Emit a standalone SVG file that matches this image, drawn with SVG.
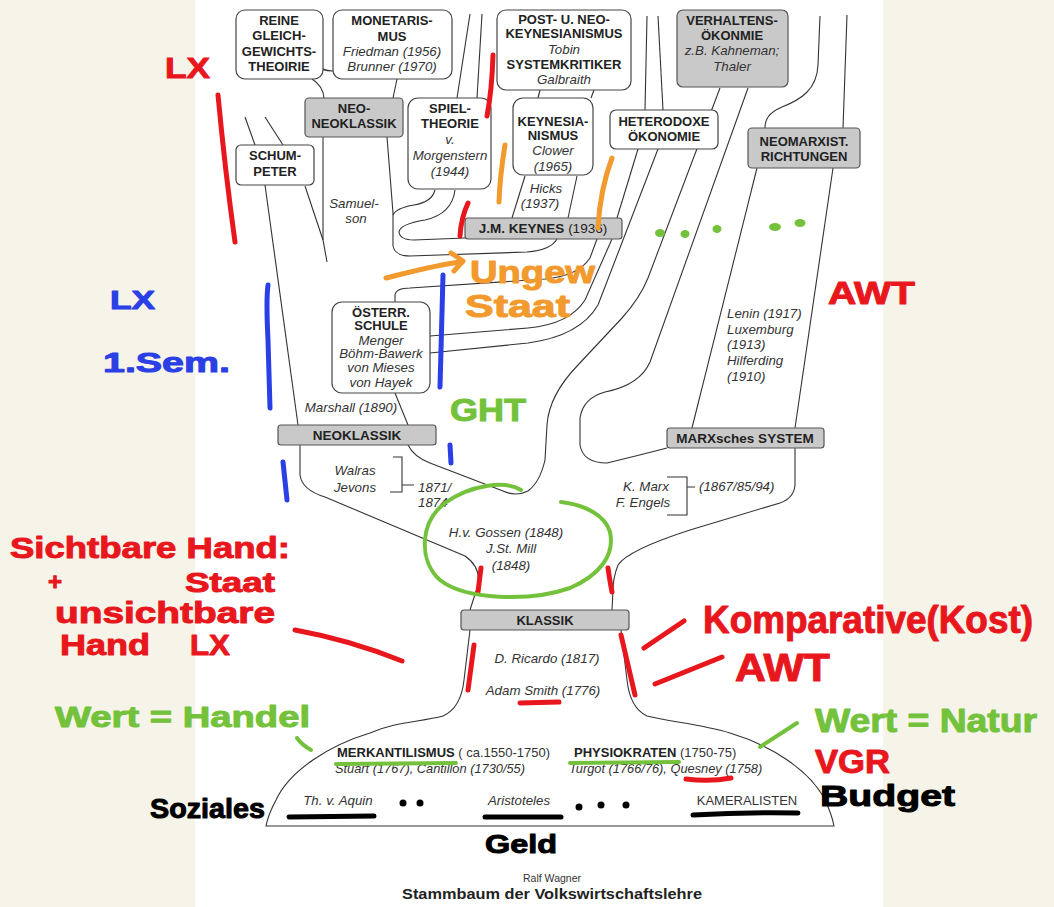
<svg xmlns="http://www.w3.org/2000/svg" width="1054" height="907" viewBox="0 0 1054 907">
<style>
.box{fill:#fff;stroke:#444;stroke-width:1.2}
.gbox{fill:#c9c9c9;stroke:#555;stroke-width:1.2}
.bar{fill:#c9c9c9;stroke:#555;stroke-width:1.2}
.b{font-family:"Liberation Sans",Arial,sans-serif;font-weight:bold;font-size:13px;fill:#222;text-anchor:middle}
.bb{font-family:"Liberation Sans",Arial,sans-serif;font-weight:bold;font-size:13.5px;fill:#222;text-anchor:middle}
.i{font-family:"Liberation Sans",Arial,sans-serif;font-style:italic;font-size:13.3px;fill:#333;text-anchor:middle}
.is{font-family:"Liberation Sans",Arial,sans-serif;font-style:italic;font-size:13.3px;fill:#333;text-anchor:start}
.n{font-family:"Liberation Sans",Arial,sans-serif;font-size:13px;fill:#333}
.ln{fill:none;stroke:#333;stroke-width:1.1}
.hw{font-family:"Liberation Sans",Arial,sans-serif;font-weight:bold;stroke-width:1;stroke-linejoin:round}
.mk{fill:none;stroke-linecap:round;stroke-linejoin:round}
.red{stroke:#e8171d;stroke-width:5}
.blue{stroke:#2b3fe6;stroke-width:5}
.or{stroke:#f29a2e;stroke-width:5}
.gr{stroke:#74c23c;stroke-width:4}
.bk{stroke:#000;stroke-width:5}
</style>
<rect x="0" y="0" width="1054" height="907" fill="#f6f3e8"/>
<rect x="195" y="0" width="688" height="907" fill="#ffffff"/>

<g id="connectors">
<path class="ln" d="M313,63 Q321,71 333,71"/>
<path class="ln" d="M312,79 Q323,86 324,98"/>
<path class="ln" d="M397,79 L393,98"/>
<path class="ln" d="M470,14 L457,98"/>
<path class="ln" d="M482,14 L477,98"/>
<path class="ln" d="M540,90 L538,98"/>
<path class="ln" d="M594,90 L591,98"/>
<path class="ln" d="M647,16 L645,110"/>
<path class="ln" d="M658,16 L663,110"/>
<path class="ln" d="M820,16 L818,65 C817,90 800,100 782,107 C768,113 765,120 765,128"/>
<path class="ln" d="M847,15 L843,128"/>
<path class="ln" d="M245,117 L255,145"/>
<path class="ln" d="M265,117 L283,145"/>
<path class="ln" d="M265,185 L298,425"/>
<path class="ln" d="M305,186 L323,240 L327,262"/>
<path class="ln" d="M323,137 L323,240"/>
<path class="ln" d="M387,137 L393,213 L393,246 Q395,256 410,256 L527,252 Q551,250 557,239"/>
<path class="ln" d="M435,190 Q432,202 414,205 Q396,208 393,215"/>
<path class="ln" d="M455,190 Q452,214 425,220 Q400,224 399,232 Q400,240 414,240 L465,238"/>
<path class="ln" d="M525,176 L512,218"/>
<path class="ln" d="M577,176 L568,218"/>
<path class="ln" d="M638,149 L617,218"/>
<path class="ln" d="M395,302 L395,295 Q396,288 410,288 L545,279 Q578,276 590,258 L597,239"/>
<path class="ln" d="M430,336 L528,328 Q570,324 585,300 L612,239"/>
<path class="ln" d="M430,353 L528,343 Q580,336 598,305 L658,149"/>
<path class="ln" d="M395,393 L408,425"/>
<path class="ln" d="M408,445 Q414,457 430,463 L503,491 Q516,497 528,491 Q540,482 545,460 L547,425 Q549,395 578,365 L622,318 Q640,298 648,278 L720,88"/>
<path class="ln" d="M667,448 Q640,455 607,463 Q583,463 580,445 L580,418 Q583,398 605,392 Q640,385 650,362 L748,88"/>
<path class="ln" d="M757,168 L692,428"/>
<path class="ln" d="M833,168 L795,428"/>
<path class="ln" d="M795,448 L795,485 Q794,498 780,503 L690,530 Q628,550 618,565 Q613,578 613,590 L612,610"/>
<path class="ln" d="M470,610 L478,585 Q481,567 465,556 L325,497 Q302,490 300,475 L300,445"/>
<path class="ln" d="M393,457 L402,457 L402,492 L390,492 M402,485 L414,485"/>
<path class="ln" d="M667,477 L687,477 L687,515 L667,515 M687,487 L695,487"/>
<path class="ln" d="M470,630 L464,680 Q461,708 443,716 C420,722 395,722 370,733 C330,745 290,770 276,800 Q268,815 266,826 L834,826 Q832,815 825,800 C810,770 770,745 730,733 C700,724 670,722 647,716 Q630,708 627,680 L621,630"/>
</g>

<g id="n-reine"><rect class="box" x="236" y="10" width="87" height="69" rx="9"/>
<text class="b" x="279" y="25">REINE</text><text class="b" x="279" y="40">GLEICH-</text><text class="b" x="279" y="56">GEWICHTS-</text><text class="b" x="279" y="71">THEOIRIE</text></g>
<g id="n-monetarismus"><rect class="box" x="333" y="10" width="119" height="69" rx="9"/>
<text class="b" x="392" y="25">MONETARIS-</text><text class="b" x="392" y="41">MUS</text><text class="i" x="392" y="56">Friedman (1956)</text><text class="i" x="392" y="71">Brunner (1970)</text></g>
<g id="n-postkeynes"><rect class="box" x="497" y="10" width="134" height="80" rx="9"/>
<text class="b" x="564" y="24">POST- U. NEO-</text><text class="b" x="564" y="38">KEYNESIANISMUS</text><text class="i" x="564" y="54">Tobin</text><text class="b" x="564" y="69">SYSTEMKRITIKER</text><text class="i" x="564" y="84">Galbraith</text></g>
<g id="n-verhalten"><rect class="gbox" x="677" y="10" width="111" height="77" rx="6"/>
<text class="b" x="732" y="25">VERHALTENS-</text><text class="b" x="732" y="40">ÖKONMIE</text><text class="i" x="732" y="55">z.B. Kahneman;</text><text class="i" x="732" y="71">Thaler</text></g>
<g id="n-neoneo"><rect class="gbox" x="305" y="98" width="98" height="39" rx="4"/>
<text class="b" x="354" y="113">NEO-</text><text class="b" x="354" y="128">NEOKLASSIK</text></g>
<g id="n-spiel"><rect class="box" x="408" y="98" width="83" height="91" rx="10"/>
<text class="b" x="450" y="113">SPIEL-</text><text class="b" x="450" y="128">THEORIE</text><text class="i" x="450" y="144">v.</text><text class="i" x="450" y="160">Morgenstern</text><text class="i" x="450" y="176">(1944)</text></g>
<g id="n-keynesianismus"><rect class="box" x="513" y="98" width="80" height="77" rx="10"/>
<text class="b" x="553" y="126">KEYNESIA-</text><text class="b" x="553" y="140">NISMUS</text><text class="i" x="553" y="155">Clower</text><text class="i" x="553" y="171">(1965)</text></g>
<g id="n-heterodox"><rect class="box" x="610" y="110" width="108" height="39" rx="6"/>
<text class="b" x="664" y="126">HETERODOXE</text><text class="b" x="664" y="141">ÖKONOMIE</text></g>
<g id="n-neomarx"><rect class="gbox" x="748" y="128" width="112" height="40" rx="4"/>
<text class="b" x="804" y="146">NEOMARXIST.</text><text class="b" x="804" y="161">RICHTUNGEN</text></g>
<g id="n-schumpeter"><rect class="box" x="236" y="145" width="78" height="40" rx="5"/>
<text class="b" x="275" y="160">SCHUM-</text><text class="b" x="275" y="176">PETER</text></g>
<g id="n-keynes"><rect class="bar" x="465" y="218" width="157" height="21" rx="3"/>
<text class="bb" x="543" y="233">J.M. KEYNES <tspan font-weight="normal">(1936)</tspan></text></g>
<g id="n-oesterr"><rect class="box" x="332" y="302" width="98" height="91" rx="10"/>
<text class="b" x="381" y="317">ÖSTERR.</text><text class="b" x="381" y="330">SCHULE</text><text class="i" x="381" y="345">Menger</text><text class="i" x="381" y="358">Böhm-Bawerk</text><text class="i" x="381" y="372">von Mieses</text><text class="i" x="381" y="387">von Hayek</text></g>
<g id="n-neoklassik"><rect class="bar" x="278" y="425" width="158" height="20" rx="3"/>
<text class="bb" x="357" y="440">NEOKLASSIK</text></g>
<g id="n-marx"><rect class="bar" x="667" y="428" width="157" height="20" rx="3"/>
<text class="bb" x="745" y="443">MARXsches SYSTEM</text></g>
<g id="n-klassik"><rect class="bar" x="461" y="610" width="168" height="20" rx="3"/>
<text class="b" x="545" y="625">KLASSIK</text></g>

<g id="labels">
<text class="i" x="354" y="208">Samuel-</text><text class="i" x="356" y="223">son</text>
<text class="i" x="546" y="193">Hicks</text><text class="i" x="540" y="208">(1937)</text>
<text class="i" x="351" y="412">Marshall (1890)</text>
<text class="i" x="355" y="475">Walras</text><text class="i" x="355" y="492">Jevons</text>
<text class="is" x="418" y="492">1871/</text><text class="is" x="418" y="507">1874</text>
<text class="is" x="727" y="318">Lenin (1917)</text>
<text class="is" x="727" y="334">Luxemburg</text>
<text class="is" x="727" y="349">(1913)</text>
<text class="is" x="727" y="365">Hilferding</text>
<text class="is" x="727" y="381">(1910)</text>
<text class="i" x="646" y="491">K. Marx</text><text class="i" x="643" y="507">F. Engels</text>
<text class="is" x="699" y="491">(1867/85/94)</text>
<text class="i" x="506" y="537">H.v. Gossen (1848)</text>
<text class="i" x="511" y="553">J.St. Mill</text>
<text class="i" x="511" y="570">(1848)</text>
<text class="i" x="547" y="663">D. Ricardo (1817)</text>
<text class="i" x="543" y="695">Adam Smith (1776)</text>
<text class="n" x="337" y="757"><tspan font-weight="bold" fill="#222">MERKANTILISMUS</tspan> ( ca.1550-1750)</text>
<text class="n" x="574" y="757"><tspan font-weight="bold" fill="#222">PHYSIOKRATEN</tspan> (1750-75)</text>
<text class="is" x="335" y="773" style="font-size:12.8px">Stuart (1767), Cantillon (1730/55)</text>
<text class="is" x="569" y="773" style="font-size:12.8px">Turgot (1766/76), Quesney (1758)</text>
<text class="i" x="338" y="805">Th. v. Aquin</text>
<text class="i" x="519" y="805">Aristoteles</text>
<text class="n" x="747" y="805" text-anchor="middle">KAMERALISTEN</text>
<text class="n" x="552" y="882" text-anchor="middle" style="font-size:10.5px">Ralf Wagner</text>
<text class="n" x="552" y="899" text-anchor="middle" style="font-size:15px;font-weight:bold;fill:#222" textLength="300" lengthAdjust="spacingAndGlyphs">Stammbaum der Volkswirtschaftslehre</text>
</g>

<g id="annotations">
<path class="mk red" d="M218,95 Q225,170 235,242"/>
<path class="mk red" d="M493,55 Q492,90 487,116"/>
<path class="mk red" d="M468,203 Q461,218 460,236"/>
<path class="mk red" stroke-width="4" d="M481,568 L478,592"/>
<path class="mk red" stroke-width="4" d="M608,568 Q610,582 612,592"/>
<path class="mk red" stroke-width="4" d="M474,645 L468,690"/>
<path class="mk red" stroke-width="4" d="M621,635 Q628,665 635,695"/>
<path class="mk red" d="M295,630 Q350,640 402,661"/>
<path class="mk red" d="M644,648 L684,621"/>
<path class="mk red" d="M655,684 L722,657"/>
<path class="mk red" stroke-width="4" d="M520,703 L559,702"/>
<path class="mk red" stroke-width="4" d="M686,779 Q710,782 731,778"/>
<path class="mk blue" d="M268,285 Q266,300 268,340 L270,408"/>
<path class="mk blue" d="M443,275 L440,387"/>
<path class="mk blue" d="M283,462 L287,500"/>
<path class="mk blue" d="M450,445 L451,463"/>
<path class="mk or" d="M386,278 C410,272 440,264 462,262"/>
<path class="mk or" d="M451,253 L463,261 L454,271"/>
<path class="mk or" d="M505,145 Q500,175 499,202"/>
<path class="mk or" d="M612,158 Q600,190 598,228"/>
<path class="mk gr" d="M521,490 C505,480 470,485 445,503 C420,522 418,560 440,580 C465,600 530,602 570,588 C600,575 615,555 610,532 C605,515 585,505 561,502"/>
<path class="mk gr" d="M297,738 Q302,745 311,750"/>
<path class="mk gr" d="M760,747 L797,723"/>
<path class="mk gr" d="M336,764 L456,763"/>
<path class="mk gr" d="M570,763 L679,762"/>
<g fill="#74c23c"><ellipse cx="660" cy="233" rx="5" ry="4"/><ellipse cx="685" cy="234" rx="4.5" ry="4"/><ellipse cx="717" cy="229" rx="4.5" ry="4"/><ellipse cx="775" cy="227" rx="6" ry="4"/><ellipse cx="800" cy="223" rx="5.5" ry="4"/></g>
<path class="mk bk" d="M289,817 L374,816"/>
<path class="mk bk" d="M485,817 L561,817"/>
<path class="mk bk" d="M693,815 Q745,812 798,813"/>
<g fill="#000"><circle cx="403" cy="803" r="3.5"/><circle cx="420" cy="803" r="3.5"/><circle cx="579" cy="807" r="3.5"/><circle cx="601" cy="805" r="3.5"/><circle cx="626" cy="805" r="3.5"/></g>

<text class="hw" x="165" y="78" font-size="30" fill="#e8171d" stroke="#e8171d" textLength="45" lengthAdjust="spacingAndGlyphs">LX</text>
<text class="hw" x="110" y="309" font-size="26" fill="#2b3fe6" stroke="#2b3fe6" textLength="45" lengthAdjust="spacingAndGlyphs">LX</text>
<text class="hw" x="103" y="372" font-size="28" fill="#2b3fe6" stroke="#2b3fe6" textLength="127" lengthAdjust="spacingAndGlyphs">1.Sem.</text>
<text class="hw" x="470" y="283" font-size="32" fill="#f29a2e" stroke="#f29a2e" textLength="125" lengthAdjust="spacingAndGlyphs">Ungew</text>
<text class="hw" x="465" y="317" font-size="32" fill="#f29a2e" stroke="#f29a2e" textLength="105" lengthAdjust="spacingAndGlyphs">Staat</text>
<text class="hw" x="450" y="421" font-size="32" fill="#74c23c" stroke="#74c23c" textLength="76" lengthAdjust="spacingAndGlyphs">GHT</text>
<text class="hw" x="828" y="304" font-size="32" fill="#e8171d" stroke="#e8171d" textLength="87" lengthAdjust="spacingAndGlyphs">AWT</text>
<text class="hw" x="10" y="558" font-size="30" fill="#e8171d" stroke="#e8171d" textLength="280" lengthAdjust="spacingAndGlyphs">Sichtbare Hand:</text>
<text class="hw" x="48" y="590" font-size="24" fill="#e8171d" stroke="#e8171d">+</text>
<text class="hw" x="185" y="592" font-size="28" fill="#e8171d" stroke="#e8171d" textLength="90" lengthAdjust="spacingAndGlyphs">Staat</text>
<text class="hw" x="55" y="623" font-size="30" fill="#e8171d" stroke="#e8171d" textLength="220" lengthAdjust="spacingAndGlyphs">unsichtbare</text>
<text class="hw" x="60" y="655" font-size="30" fill="#e8171d" stroke="#e8171d" textLength="90" lengthAdjust="spacingAndGlyphs">Hand</text>
<text class="hw" x="190" y="655" font-size="30" fill="#e8171d" stroke="#e8171d" textLength="40" lengthAdjust="spacingAndGlyphs">LX</text>
<text class="hw" x="55" y="727" font-size="30" fill="#74c23c" stroke="#74c23c" textLength="255" lengthAdjust="spacingAndGlyphs">Wert = Handel</text>
<text class="hw" x="150" y="818" font-size="28" fill="#000" stroke="#000" textLength="115" lengthAdjust="spacingAndGlyphs">Soziales</text>
<text class="hw" x="703" y="633" font-size="38" fill="#e8171d" stroke="#e8171d" textLength="330" lengthAdjust="spacingAndGlyphs">Komparative(Kost)</text>
<text class="hw" x="735" y="681" font-size="38" fill="#e8171d" stroke="#e8171d" textLength="95" lengthAdjust="spacingAndGlyphs">AWT</text>
<text class="hw" x="815" y="732" font-size="34" fill="#74c23c" stroke="#74c23c" textLength="222" lengthAdjust="spacingAndGlyphs">Wert = Natur</text>
<text class="hw" x="815" y="773" font-size="34" fill="#e8171d" stroke="#e8171d" textLength="75" lengthAdjust="spacingAndGlyphs">VGR</text>
<text class="hw" x="820" y="806" font-size="30" fill="#000" stroke="#000" textLength="135" lengthAdjust="spacingAndGlyphs">Budget</text>
<text class="hw" x="485" y="853" font-size="26" fill="#000" stroke="#000" textLength="72" lengthAdjust="spacingAndGlyphs">Geld</text>
</g>
</svg>
